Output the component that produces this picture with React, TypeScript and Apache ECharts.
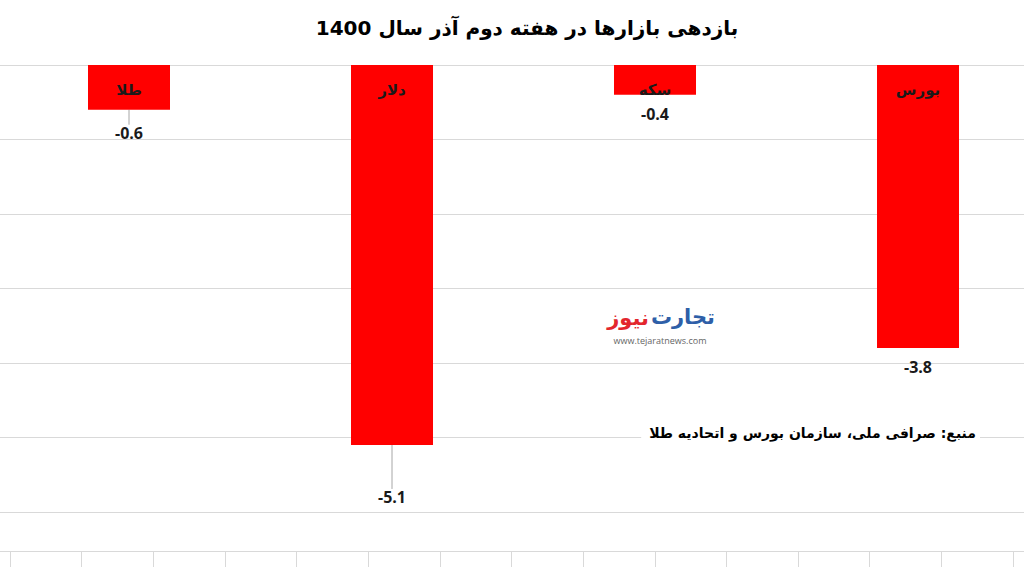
import React, { useEffect, useRef } from "react";
import * as echarts from "echarts";

// ---- data ----
const categories = ["طلا", "دلار", "سکه", "بورس"];
const returns = [-0.6, -5.1, -0.4, -3.8];
const yMin = -6;
const yMax = 0;
const yStep = 1;
const bottomAxisSlots = ["", "", "", "", "", "", "", "", "", "", "", "", "", ""];
const titleText = "بازدهی بازارها در هفته دوم آذر سال 1400";
const sourceText = "منبع: صرافی ملی، سازمان بورس و اتحادیه طلا";
const logoBlue = "تجارت";
const logoRed = "نیوز";
const logoUrl = "www.tejaratnews.com";

// layout only: label displacement and category-axis window
const labelShift = [4, 33, 0, 0];
const xWindowMin = -0.4905;
const xWindowMax = 3.403;

const RLE = "\u202B";
const PDF = "\u202C";
const rtl = (s: string) => RLE + s + PDF;

const FA = "'DejaVu Sans', sans-serif";
const NUM = "'Open Sans', 'Liberation Sans', sans-serif";

export default function App() {
  const ref = useRef<HTMLDivElement>(null);

  useEffect(() => {
    document.body.style.margin = "0";
    if (!ref.current) return;
    const chart = echarts.init(ref.current, undefined, { renderer: "svg" });

    const points = returns.map((v, i) => [i, v]);

    const option: any = {
      animation: false,
      backgroundColor: "#ffffff",
      grid: [
        { left: 0, right: 0, top: 65, bottom: 55, containLabel: false },
        { left: 10, right: 11, top: 535, height: 16, containLabel: false },
      ],
      xAxis: [
        {
          type: "value",
          gridIndex: 0,
          min: xWindowMin,
          max: xWindowMax,
          show: false,
          splitLine: { show: false },
        },
        {
          type: "category",
          gridIndex: 1,
          data: bottomAxisSlots,
          boundaryGap: true,
          axisLine: { show: false },
          axisLabel: { show: false },
          splitLine: { show: false },
          axisTick: { show: true, length: 16, lineStyle: { color: "#d9d9d9", width: 1 } },
        },
      ],
      yAxis: [
        {
          type: "value",
          gridIndex: 0,
          min: yMin,
          max: yMax,
          interval: yStep,
          axisLabel: { show: false },
          axisLine: { show: false },
          axisTick: { show: false },
          splitLine: { show: true, lineStyle: { color: "#d9d9d9", width: 1 } },
        },
        { type: "value", gridIndex: 1, show: false },
      ],
      series: [
        {
          type: "bar",
          xAxisIndex: 0,
          yAxisIndex: 0,
          barWidth: 82,
          data: points.map((pt, i) => ({
            value: pt,
            labelLine: { show: labelShift[i] > 0 },
          })),
          itemStyle: { color: "#ff0000" },
          label: {
            show: true,
            position: "bottom",
            distance: 11,
            formatter: (p: any) => String(p.value[1]),
            fontFamily: NUM,
            fontWeight: "bold",
            fontSize: 16,
            color: "#1a1a1a",
          },
          labelLayout: (p: any) => ({ dy: labelShift[p.dataIndex] }),
          labelLine: {
            show: false,
            lineStyle: { color: "#a6a6a6", width: 1 },
          },
        },
        {
          type: "bar",
          xAxisIndex: 0,
          yAxisIndex: 0,
          barWidth: 82,
          barGap: "-100%",
          silent: true,
          data: points,
          itemStyle: { color: "rgba(0,0,0,0)" },
          label: {
            show: true,
            position: "insideTop",
            distance: 17,
            formatter: (p: any) => rtl(categories[p.dataIndex]),
            fontFamily: FA,
            fontWeight: "bold",
            fontSize: 15,
            color: "#1a1a1a",
          },
          z: 3,
        },
      ],
      graphic: [
        {
          type: "text",
          x: 527,
          y: 28,
          style: {
            text: rtl(titleText),
            font: `bold 20px ${FA}`,
            fill: "#000000",
            textAlign: "center",
            textVerticalAlign: "middle",
          },
        },
        {
          type: "line",
          shape: { x1: 0, y1: 551.5, x2: 1024, y2: 551.5 },
          style: { stroke: "#d9d9d9", lineWidth: 1 },
        },
        {
          type: "text",
          x: 715,
          y: 317,
          style: {
            text: rtl(logoBlue),
            font: `bold 21px ${FA}`,
            fill: "#2e5fa8",
            textAlign: "right",
            textVerticalAlign: "middle",
          },
        },
        {
          type: "text",
          x: 649,
          y: 318,
          style: {
            text: rtl(logoRed),
            font: `bold 21px ${FA}`,
            fill: "#e3262d",
            textAlign: "right",
            textVerticalAlign: "middle",
          },
        },
        {
          type: "text",
          x: 660,
          y: 340,
          style: {
            text: logoUrl,
            font: `9px ${NUM}`,
            fill: "#666666",
            textAlign: "center",
            textVerticalAlign: "middle",
          },
        },
        {
          type: "text",
          x: 980,
          y: 433,
          z: 10,
          style: {
            text: rtl(sourceText),
            font: `bold 14px ${FA}`,
            fill: "#000000",
            textAlign: "right",
            textVerticalAlign: "middle",
            backgroundColor: "#ffffff",
            padding: [3, 4, 3, 8],
          },
        },
      ],
    };

    chart.setOption(option);
    return () => chart.dispose();
  }, []);

  return <div ref={ref} style={{ width: 1024, height: 567 }} />;
}
